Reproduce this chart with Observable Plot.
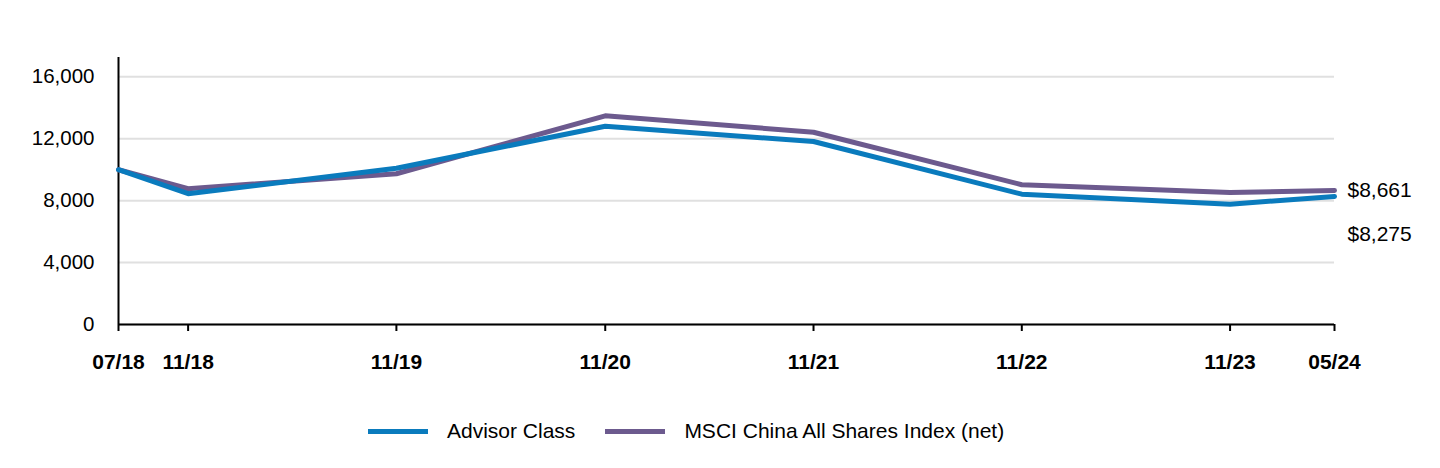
<!DOCTYPE html>
<html>
<head>
<meta charset="utf-8">
<script src="https://cdn.jsdelivr.net/npm/d3@7"></script>
<script src="https://cdn.jsdelivr.net/npm/@observablehq/plot@0.6"></script>
<style>
  html, body { margin: 0; padding: 0; background: #fff; }
  body { width: 1440px; font-family: Arial, "Liberation Sans", sans-serif; }
  #legend { display: flex; justify-content: flex-start; align-items: center; margin-top: 19px; margin-left: 368px; font-size: 21px; color: #000; }
  .item { display: flex; align-items: center; margin-right: 30px; }
  .sw { width: 60px; height: 5px; margin-right: 19px; }
</style>
</head>
<body>
<div id="chart"></div>
<div id="legend"></div>
<script>
const dates = ["2018-07-31","2018-11-30","2019-11-30","2020-11-30","2021-11-30","2022-11-30","2023-11-30","2024-05-31"];
const tickLabels = ["07/18","11/18","11/19","11/20","11/21","11/22","11/23","05/24"];
const advisorClass = [10000, 8450, 10090, 12810, 11820, 8420, 7770, 8275];
const msciIndex = [10000, 8770, 9740, 13480, 12420, 9030, 8530, 8661];
const seriesNames = ["Advisor Class", "MSCI China All Shares Index (net)"];
const seriesColors = ["#0a7bbd", "#6c5a8e"];
const yTicks = [0, 4000, 8000, 12000, 16000];

const parse = d3.utcParse("%Y-%m-%d");
const dateObjs = dates.map(parse);
const rows = [];
[advisorClass, msciIndex].forEach((vals, s) => {
  vals.forEach((v, i) => rows.push({date: dateObjs[i], value: v, series: seriesNames[s]}));
});
const adv = rows.filter(r => r.series === seriesNames[0]);
const msci = rows.filter(r => r.series === seriesNames[1]);
const fmtMoney = v => "$" + d3.format(",")(v);

const chart = Plot.plot({
  width: 1440,
  height: 400,
  marginLeft: 118,
  marginRight: 106,
  marginTop: 57,
  marginBottom: 76,
  style: {fontFamily: "Arial, 'Liberation Sans', sans-serif", fontSize: "20px", color: "#000", background: "#fff"},
  x: {type: "utc", domain: [dateObjs[0], dateObjs[dateObjs.length - 1]], label: null},
  y: {domain: [0, 17250], label: null},
  marks: [
    Plot.gridY(yTicks, {stroke: "#e0e0e0", strokeOpacity: 1, strokeWidth: 2}),
    Plot.axisY(yTicks, {tickSize: 0, tickPadding: 24, tickFormat: d3.format(","), fontSize: 20.5, label: null}),
    Plot.axisX(dateObjs, {tickSize: 7, tickPadding: 23, tickFormat: (d, i) => tickLabels[i], fontSize: 21, fontWeight: "bold", strokeWidth: 2, label: null}),
    Plot.ruleY([0], {stroke: "#000", strokeWidth: 2}),
    Plot.ruleX([dateObjs[0]], {y1: 0, y2: 17250, stroke: "#000", strokeWidth: 2}),
    Plot.line(msci, {x: "date", y: "value", stroke: seriesColors[1], strokeWidth: 5}),
    Plot.line(adv, {x: "date", y: "value", stroke: seriesColors[0], strokeWidth: 5}),
    Plot.text([msci[msci.length - 1]], {x: "date", y: "value", text: d => fmtMoney(d.value), textAnchor: "start", dx: 13, fontSize: 21}),
    Plot.text([adv[adv.length - 1]], {x: "date", y: "value", text: d => fmtMoney(d.value), textAnchor: "start", dx: 13, dy: 38, fontSize: 21})
  ]
});
document.getElementById("chart").appendChild(chart);

const legend = document.getElementById("legend");
seriesNames.forEach((name, i) => {
  const item = document.createElement("div");
  item.className = "item";
  const sw = document.createElement("span");
  sw.className = "sw";
  sw.style.background = seriesColors[i];
  const label = document.createElement("span");
  label.textContent = name;
  item.appendChild(sw);
  item.appendChild(label);
  legend.appendChild(item);
});
</script>
</body>
</html>
